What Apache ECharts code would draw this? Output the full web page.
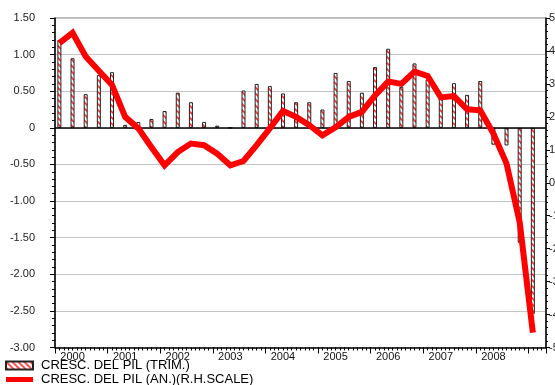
<!DOCTYPE html>
<html>
<head>
<meta charset="utf-8">
<script src="https://cdn.jsdelivr.net/npm/echarts@6/dist/echarts.min.js"></script>
<style>
  html, body { margin: 0; padding: 0; background: #fff; }
  #chart { width: 555px; height: 385px; }
</style>
</head>
<body>
<div id="chart"></div>
<script>
// quarterly data, 2000Q1 .. 2009Q1
const quarters = [
  '2000Q1', '2000Q2', '2000Q3', '2000Q4', '2001Q1', '2001Q2', '2001Q3', '2001Q4',
  '2002Q1', '2002Q2', '2002Q3', '2002Q4', '2003Q1', '2003Q2', '2003Q3', '2003Q4',
  '2004Q1', '2004Q2', '2004Q3', '2004Q4', '2005Q1', '2005Q2', '2005Q3', '2005Q4',
  '2006Q1', '2006Q2', '2006Q3', '2006Q4', '2007Q1', '2007Q2', '2007Q3', '2007Q4',
  '2008Q1', '2008Q2', '2008Q3', '2008Q4', '2009Q1',
];
// CRESC. DEL PIL (TRIM.) - left scale
const pilTrim = [
  1.20, 0.95, 0.46, 0.72, 0.76, 0.04, 0.08, 0.12,
  0.23, 0.48, 0.35, 0.08, 0.03, 0.00, 0.51, 0.60,
  0.57, 0.47, 0.35, 0.35, 0.25, 0.75, 0.64, 0.48,
  0.83, 1.08, 0.56, 0.88, 0.66, 0.44, 0.61, 0.45,
  0.64, -0.23, -0.24, -1.57, -2.54,
];
// CRESC. DEL PIL (AN.) - right scale
const pilAnn = [
  4.24, 4.55, 3.83, 3.40, 2.97, 2.00, 1.65, 1.08,
  0.53, 0.93, 1.19, 1.14, 0.88, 0.53, 0.66, 1.14,
  1.65, 2.18, 2.00, 1.75, 1.44, 1.68, 2.00, 2.15,
  2.65, 3.07, 3.00, 3.37, 3.24, 2.59, 2.63, 2.23,
  2.20, 1.49, 0.58, -1.20, -4.55,
];
const yearLabels = ['2000', '2001', '2002', '2003', '2004', '2005', '2006', '2007', '2008'];

const NAME_TRIM = 'CRESC. DEL PIL (TRIM.)';
const NAME_ANN = 'CRESC. DEL PIL (AN.)(R.H.SCALE)';
const FONT = "'Liberation Sans', Arial, sans-serif";

// month axis: 0 = Jan 2000 ... 112
const MONTHS = 112;
const monthCats = [];
const monthLabel = {};
for (let m = 0; m <= MONTHS; m++) monthCats.push('m' + m);
yearLabels.forEach((y, k) => { monthLabel[4 + k * 12] = y; });

// quarter index -> month position on the x axis
const toMonth = (i) => i * 3 + 1;
const barData = quarters.map((q, i) => [toMonth(i), pilTrim[i]]);
const lineData = quarters.map((q, i) => [toMonth(i), pilAnn[i]]);

// hatched red/white fill for the bars
const hatch = document.createElement('canvas');
hatch.width = 6;
hatch.height = 6;
const ctx = hatch.getContext('2d');
ctx.fillStyle = '#ffffff';
ctx.fillRect(0, 0, 6, 6);
ctx.strokeStyle = '#ff3030';
ctx.lineWidth = 1.6;
ctx.beginPath();
ctx.moveTo(-1, -1); ctx.lineTo(7, 7);
ctx.moveTo(-4, 2); ctx.lineTo(4, 10);
ctx.moveTo(2, -4); ctx.lineTo(10, 4);
ctx.stroke();
const hatchFill = { image: hatch, repeat: 'repeat' };

const chart = echarts.init(document.getElementById('chart'), null, { renderer: 'canvas' });

chart.setOption({
  animation: false,
  textStyle: { fontFamily: FONT },
  grid: {
    left: 55, right: 9, top: 18, bottom: 37.5,
    outerBoundsMode: 'none',
    containLabel: false,
    show: true, borderColor: '#777', borderWidth: 1,
  },
  legend: {
    orient: 'vertical',
    left: 5,
    top: 359,
    height: 40,
    padding: 0,
    itemWidth: 27,
    itemHeight: 8,
    itemGap: 1,
    textStyle: { fontSize: 13, lineHeight: 13, color: '#000', fontFamily: FONT, padding: [0, 0, 0, 3] },
    data: [
      { name: NAME_TRIM, icon: 'rect' },
      { name: NAME_ANN, icon: 'path://M0,0h27v5h-27z', itemStyle: { color: '#ff0000', borderWidth: 0 } },
    ],
  },
  xAxis: [
    {
      type: 'category',
      data: monthCats,
      boundaryGap: false,
      position: 'bottom',
      axisLine: { onZero: false, lineStyle: { color: '#000', width: 1.5 } },
      axisTick: { show: true, interval: 0, length: 3, lineStyle: { color: '#000' } },
      axisLabel: {
        interval: 0,
        margin: 4,
        fontSize: 11,
        color: '#111',
        formatter: (v, idx) => monthLabel[idx] || '',
      },
      splitLine: { show: false },
    },
    {
      type: 'value',
      min: 0,
      max: MONTHS,
      interval: 12,
      position: 'bottom',
      axisLine: { show: false, onZero: false },
      axisTick: { show: true, length: 6, lineStyle: { color: '#000' } },
      axisLabel: { show: false },
      splitLine: { show: false },
    },
  ],
  yAxis: [
    {
      type: 'value',
      min: -3,
      max: 1.5,
      interval: 0.5,
      position: 'left',
      axisLine: { show: true, onZero: false, lineStyle: { color: '#000', width: 1.5 } },
      axisTick: { show: true, length: 5, lineStyle: { color: '#000' } },
      minorTick: { show: true, splitNumber: 5, length: 3, lineStyle: { color: '#000' } },
      axisLabel: {
        margin: 20,
        fontSize: 11,
        color: '#222',
        formatter: (v) => (v === 0 ? '0' : v.toFixed(2)),
      },
      splitLine: { show: true, lineStyle: { color: '#c4c4c4', width: 1 } },
    },
    {
      type: 'value',
      min: -5,
      max: 5,
      interval: 1,
      position: 'right',
      axisLine: { show: true, onZero: false, lineStyle: { color: '#000', width: 1.5 } },
      axisTick: { show: true, length: 4, lineStyle: { color: '#000' } },
      minorTick: { show: true, splitNumber: 5, length: 2, lineStyle: { color: '#000' } },
      axisLabel: { margin: 3, fontSize: 11, color: '#222' },
      splitLine: { show: false },
    },
  ],
  series: [
    {
      name: NAME_TRIM,
      type: 'bar',
      xAxisIndex: 1,
      yAxisIndex: 0,
      barWidth: 4,
      data: barData,
      itemStyle: { color: hatchFill, borderColor: '#222', borderWidth: 1 },
      markLine: {
        silent: true,
        symbol: 'none',
        label: { show: false },
        lineStyle: { color: '#000', width: 1.5, type: 'solid' },
        data: [{ yAxis: 0 }],
      },
    },
    {
      name: NAME_ANN,
      type: 'line',
      xAxisIndex: 1,
      yAxisIndex: 1,
      data: lineData,
      symbol: 'none',
      showSymbol: false,
      z: 5,
      itemStyle: { color: '#ff0000' },
      lineStyle: { color: '#ff0000', width: 6, join: 'miter' },
    },
  ],
});
</script>
</body>
</html>
